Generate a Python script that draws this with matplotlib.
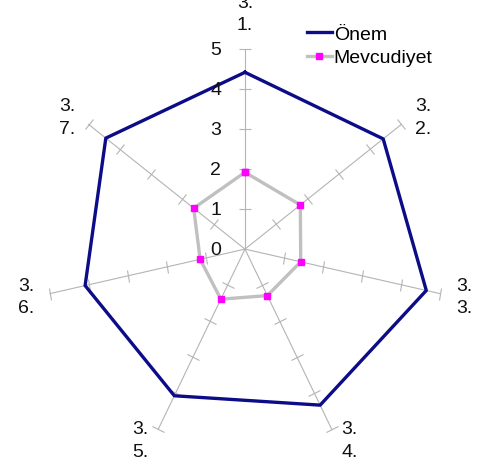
import numpy as np
import matplotlib.pyplot as plt
from matplotlib.markers import MarkerStyle
from matplotlib.transforms import Affine2D

plt.rcParams['font.family'] = ['Liberation Sans', 'DejaVu Sans']

categories = ["3.\n1.", "3.\n2.", "3.\n3.", "3.\n4.", "3.\n5.", "3.\n6.", "3.\n7."]
onem = [4.42, 4.42, 4.65, 4.33, 4.07, 4.10, 4.45]
mevcudiyet = [1.92, 1.77, 1.43, 1.29, 1.39, 1.15, 1.64]
ticks = [0, 1, 2, 3, 4, 5]

n = len(categories)
angles = np.linspace(0, 2 * np.pi, n, endpoint=False)
closed = np.append(angles, angles[0])

fig = plt.figure(figsize=(4.78, 4.64), dpi=100)
ax = fig.add_axes([0.094, 0.030, 0.837, 0.862], projection='polar')
ax.set_theta_zero_location('N')
ax.set_theta_direction(-1)
ax.set_ylim(0, 5)
ax.grid(False)
ax.spines['polar'].set_visible(False)
ax.set_xticks([])
ax.set_yticks([])

# spokes with small cross ticks at each unit
spoke_col = '#b4b4b4'
for a in angles:
    ax.plot([a, a], [0, 5], color=spoke_col, lw=0.8, zorder=1, clip_on=False)
    tick = MarkerStyle('_', transform=Affine2D().rotate_deg(180 - np.degrees(a)))
    ax.plot([a] * 5, ticks[1:], ls='none', marker=tick, ms=9, mew=0.8,
            color=spoke_col, zorder=1, clip_on=False)

ax.plot(closed, np.append(onem, onem[0]), color='#0c0c88', lw=2.4,
        label='Önem', zorder=3, clip_on=False)
ax.plot(closed, np.append(mevcudiyet, mevcudiyet[0]), color='#c0c0c0', lw=2.4,
        marker='s', ms=4.5, mfc='#ff00ff', mec='#ff00ff',
        label='Mevcudiyet', zorder=4, clip_on=False)

fs = 14
txt_col = '#111111'

# value scale along the first spoke
for t in ticks:
    ax.annotate(str(t), xy=(0, t), xytext=(-21, 0), textcoords='offset points',
                ha='center', va='center', fontsize=fs, color=txt_col)

# category labels outside the spokes
for a, lab in zip(angles, categories):
    s = np.sin(a)
    if abs(s) < 1e-6:
        ha, va, r, dx = 'center', 'bottom', 5.4, 0
    else:
        ha = 'left' if s > 0 else 'right'
        va, r = 'center', 5.3
        dx = 3 if s > 0 else -3
    ax.annotate(lab, xy=(a, r), xytext=(dx, 0), textcoords='offset points',
                ha=ha, va=va, fontsize=fs, color=txt_col,
                linespacing=1.4, annotation_clip=False)

fig.legend(loc='upper left', bbox_to_anchor=(0.625, 0.96), frameon=False,
           fontsize=fs, handlelength=1.3, handletextpad=0.1, labelspacing=0.3,
           borderaxespad=0)

fig.savefig('out.png', dpi=100)
